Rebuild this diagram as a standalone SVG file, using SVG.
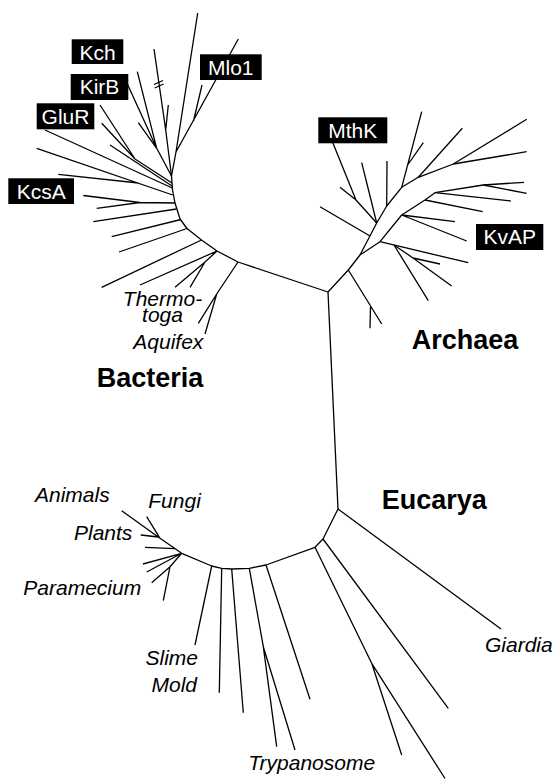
<svg xmlns="http://www.w3.org/2000/svg" width="553" height="779" viewBox="0 0 553 779">
<style>
.br{fill:none;stroke:#000;stroke-width:1.3;stroke-linejoin:round;stroke-linecap:butt}
.box{fill:#000}
.bl{font-family:"Liberation Sans",Arial,sans-serif;font-size:21px;fill:#fff;text-anchor:middle}
.it{font-family:"Liberation Sans",Arial,sans-serif;font-size:21px;font-style:italic;fill:#000}
.dom{font-family:"Liberation Sans",Arial,sans-serif;font-size:27px;font-weight:bold;fill:#000}
</style>
<rect width="553" height="779" fill="#fff"/>
<g id="connectors" class="br">
<!-- Bacteria -->
<path d="M171.5,176 L172.5,190 L175,203 L180,219 L187,228.5 L201.5,240 L217,251 L238,262 L328,292"/>
<path d="M171.5,176 L176,152 L197.7,13 M176,152 L238.3,39 M193.5,121 L202,85"/>
<path d="M171.5,176 L165.7,130 L154,49 M165.7,130 L168.3,105"/>
<path d="M154,84.5 L163,80.5 M154.6,88 L163.6,84"/>
<path d="M171.5,176 L156.7,148.3 L137.3,71.7 M156.7,148.3 L138.3,122.7 M156.7,148.3 L126,81"/>
<path d="M172,183 L135,159 L100,105 M135,159 L101.7,123.3"/>
<path d="M172,186 L110,145"/>
<path d="M172.3,188 L45,130"/>
<path d="M172.7,195 L36.7,148.3 M138.3,183 L58.3,174.3"/>
<path d="M175,203 L140,202.5 L83.3,195.5 M140,202.5 L96.7,208.3"/>
<path d="M176.5,209 L93.3,221.7"/>
<path d="M181,219.5 L111.7,236.7"/>
<path d="M187,228.5 L119,252"/>
<path d="M201.5,240 L101.7,287.3"/>
<path d="M217,251 L140,285 M217,251 L205,262 L175,287.3 M205,262 L190,287.3"/>
<path d="M238,262 L216.7,294 L205,334 M216.7,294 L198.3,323.3"/>
<!-- Archaea -->
<path d="M328,292 L348.3,270 L360,255"/>
<path d="M348.3,270 L381.7,324 M370.5,307 L370,328.3"/>
<path d="M360,255 L376.7,223 L386.7,206 L401.7,187.3 L418.3,177.3 L453.3,164 L526.7,119.3"/>
<path d="M370,236 L320,206.7"/>
<path d="M376.7,223 L356,200 L331.7,140 M356,200 L340,187.3"/>
<path d="M376.7,223 L361.7,162.7"/>
<path d="M386.7,206 L387,161"/>
<path d="M401.7,187.3 L421.7,111.7 M407.6,165 L423.3,142.7"/>
<path d="M418.3,177.3 L462.3,128.3"/>
<path d="M453.3,164 L526.7,151.7"/>
<path d="M360,255 L380,241.7 L401.7,215 L425,200 L435,192.7 L483.3,185 L524,182.3"/>
<path d="M483.3,185 L526.7,193.3"/>
<path d="M435,192.7 L510.7,201"/>
<path d="M425,200 L482.7,211.7"/>
<path d="M401.7,215 L455,221.7 M401.7,215 L466.7,241"/>
<path d="M380,241.7 L468.3,262.7"/>
<path d="M394,245 L428.3,300.7 M394,245 L413,258 L451.7,286 M413,258 L440,264"/>
<!-- Eucarya -->
<path d="M328,292 L338,509"/>
<path d="M338,509 L501,629"/>
<path d="M338,509 L323,539 L315,547.3 L266,565 L249.3,568.3 L231.7,569 L221.7,568.3 L211.7,566 L181.7,553.3 L160,538.3"/>
<path d="M323,539 L448.3,708.3"/>
<path d="M315,547.3 L371.7,663.3 L401.7,755 M371.7,663.3 L445,778.5"/>
<path d="M266,565 L310,699.3"/>
<path d="M249.3,568.3 L263.3,646.7 L295,750 M263.3,646.7 L276.7,746.7"/>
<path d="M231.7,569 L243.3,712.7"/>
<path d="M221.7,568.3 L219.3,692.7"/>
<path d="M211.7,566 L195,645"/>
<path d="M160,538.3 L121.7,510.7 M160,538.3 L146.7,516.7 M158.3,537 L140.7,535"/>
<path d="M175,548.7 L145,547.3"/>
<path d="M181.7,553.3 L143,564 M181.7,553.3 L146.7,572 M181.7,553.3 L170,566.7 L151.7,582.7 M170,566.7 L163.3,600.7"/>
</g>
<g id="kch"><rect class="box" x="71.7" y="39.3" width="51.6" height="24.7"/><text class="bl" x="97.5" y="59.5">Kch</text></g>
<g id="kirb"><rect class="box" x="70.7" y="74" width="57.6" height="26"/><text class="bl" x="99.5" y="94.3">KirB</text></g>
<g id="glur"><rect class="box" x="36.7" y="103.3" width="57.6" height="26"/><text class="bl" x="65.5" y="123.6">GluR</text></g>
<g id="mlo1"><rect class="box" x="200" y="54.3" width="61.7" height="25.7"/><text class="bl" x="230.8" y="74.6">Mlo1</text></g>
<g id="kcsa"><rect class="box" x="8.3" y="178.3" width="65.7" height="25.7"/><text class="bl" x="41.2" y="198.6">KcsA</text></g>
<g id="mthk"><rect class="box" x="318.3" y="117.3" width="69" height="26"/><text class="bl" x="352.8" y="137.6">MthK</text></g>
<g id="kvap"><rect class="box" x="476" y="224" width="67.3" height="26"/><text class="bl" x="509.7" y="244.3">KvAP</text></g>
<g id="thermotoga"><text class="it" text-anchor="middle" font-size="20"><tspan x="162.5" y="305.5">Thermo-</tspan><tspan x="162.5" y="322">toga</tspan></text></g>
<g id="aquifex"><text class="it" x="133.3" y="349">Aquifex</text></g>
<g id="bacteria"><text class="dom" x="96.7" y="387">Bacteria</text></g>
<g id="archaea"><text class="dom" x="411.7" y="349.3">Archaea</text></g>
<g id="eucarya"><text class="dom" x="381.7" y="509">Eucarya</text></g>
<g id="animals"><text class="it" x="35" y="502">Animals</text></g>
<g id="fungi"><text class="it" x="148.3" y="508">Fungi</text></g>
<g id="plants"><text class="it" x="74" y="540">Plants</text></g>
<g id="paramecium"><text class="it" x="23.3" y="595">Paramecium</text></g>
<g id="slimemold"><text class="it" text-anchor="end"><tspan x="198" y="665">Slime</tspan><tspan x="197" y="691.5">Mold</tspan></text></g>
<g id="giardia"><text class="it" x="485" y="652">Giardia</text></g>
<g id="trypanosome"><text class="it" x="248.3" y="770">Trypanosome</text></g>
</svg>
